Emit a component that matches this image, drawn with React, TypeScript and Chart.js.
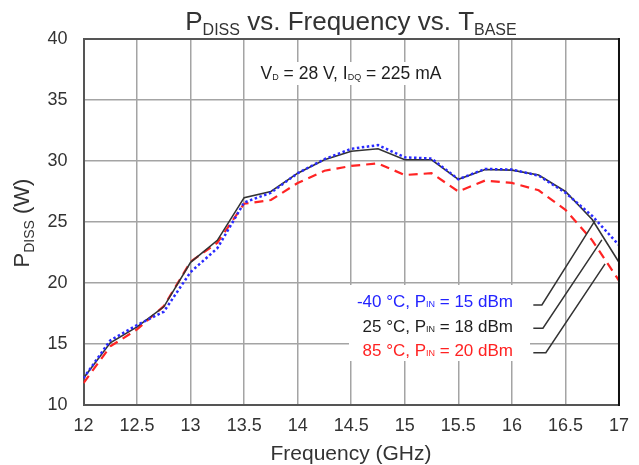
import React, { useEffect, useRef } from "react";
import { Chart, registerables } from "chart.js";

Chart.register(...registerables);

const frequencies = [12, 12.25, 12.5, 12.75, 13, 13.25, 13.5, 13.75, 14, 14.25, 14.5, 14.75, 15, 15.25, 15.5, 15.75, 16, 16.25, 16.5, 16.75, 17];
const pdissMinus40 = [12.2, 15.3, 16.55, 17.65, 20.9, 22.85, 26.6, 27.4, 29.0, 30.15, 31.0, 31.3, 30.3, 30.2, 28.5, 29.35, 29.3, 28.8, 27.4, 25.5, 23.1];
const pdiss25 = [12.2, 15.1, 16.4, 18.05, 21.7, 23.5, 27.0, 27.5, 29.0, 30.1, 30.8, 31.0, 30.1, 30.1, 28.5, 29.3, 29.25, 28.85, 27.5, 25.2, 21.7];
const pdiss85 = [11.8, 14.8, 16.2, 18.1, 21.75, 23.3, 26.5, 26.8, 28.2, 29.2, 29.6, 29.8, 28.85, 29.0, 27.5, 28.4, 28.2, 27.6, 26.0, 23.5, 20.2];

const xTicks = [12, 12.5, 13, 13.5, 14, 14.5, 15, 15.5, 16, 16.5, 17];
const yTicks = [10, 15, 20, 25, 30, 35, 40];

const legendLabels = [
  { pre: "-40 °C, P", sub: "IN", post: " = 15 dBm", color: "#2323ff" },
  { pre: "25 °C, P", sub: "IN", post: " = 18 dBm", color: "#1e1e1e" },
  { pre: "85 °C, P", sub: "IN", post: " = 20 dBm", color: "#ff2222" },
];
// leader lines in data units
const leaderStartX = [16.2, 16.2, 16.2];
const leaderY = [18.2, 16.29, 14.29];
const leaderKinkX = [16.28, 16.29, 16.317];
const leaderEndX = [16.776, 16.84, 16.87];
const leaderEndY = [25.12, 23.53, 21.57];

const FONT = "'Liberation Sans', Arial, sans-serif";

type Seg = { t: string; sub?: boolean };

function drawRich(
  ctx: CanvasRenderingContext2D,
  segs: Seg[],
  x: number,
  y: number,
  align: "left" | "center" | "right",
  size: number,
  subSize: number,
  subDy: number,
  color: string
) {
  ctx.save();
  ctx.fillStyle = color;
  ctx.textBaseline = "alphabetic";
  ctx.textAlign = "left";
  const widths = segs.map((s) => {
    ctx.font = `${s.sub ? subSize : size}px ${FONT}`;
    return ctx.measureText(s.t).width;
  });
  const total = widths.reduce((a, b) => a + b, 0);
  let cx = align === "left" ? x : align === "center" ? x - total / 2 : x - total;
  segs.forEach((s, i) => {
    ctx.font = `${s.sub ? subSize : size}px ${FONT}`;
    ctx.fillText(s.t, cx, s.sub ? y + subDy : y);
    cx += widths[i];
  });
  ctx.restore();
}

const decorPlugin = {
  id: "decor",
  beforeDatasetsDraw(chart: any) {
    const ctx: CanvasRenderingContext2D = chart.ctx;
    ctx.save();
    ctx.fillStyle = "#ffffff";
    ctx.fillRect(248, 62, 209, 23);
    ctx.fillRect(349, 285, 181, 76);
    ctx.restore();
  },
  afterDatasetsDraw(chart: any) {
    const ctx: CanvasRenderingContext2D = chart.ctx;
    const { left, right, top, bottom } = chart.chartArea;
    const xs = chart.scales.x;
    const ys = chart.scales.y;
    ctx.save();
    ctx.lineWidth = 2;
    ctx.strokeStyle = "#555555";
    ctx.beginPath();
    ctx.moveTo(left, top);
    ctx.lineTo(right, top);
    ctx.stroke();
    ctx.strokeStyle = "#111111";
    ctx.beginPath();
    ctx.moveTo(right, top - 1);
    ctx.lineTo(right, bottom + 1);
    ctx.stroke();

    ctx.strokeStyle = "#333333";
    ctx.lineWidth = 1.5;
    for (let i = 0; i < leaderY.length; i++) {
      ctx.beginPath();
      ctx.moveTo(xs.getPixelForValue(leaderStartX[i]), ys.getPixelForValue(leaderY[i]));
      ctx.lineTo(xs.getPixelForValue(leaderKinkX[i]), ys.getPixelForValue(leaderY[i]));
      ctx.lineTo(xs.getPixelForValue(leaderEndX[i]), ys.getPixelForValue(leaderEndY[i]));
      ctx.stroke();
    }
    ctx.restore();

    const baselines = [307, 332, 356];
    legendLabels.forEach((l, i) => {
      drawRich(ctx, [{ t: l.pre }, { t: l.sub, sub: true }, { t: l.post }], 513, baselines[i], "right", 17, 9, 0, l.color);
    });

    drawRich(
      ctx,
      [{ t: "V" }, { t: "D", sub: true }, { t: " = 28 V, I" }, { t: "DQ", sub: true }, { t: " = 225 mA" }],
      351,
      79,
      "center",
      17.5,
      9,
      1,
      "#1e1e1e"
    );

    drawRich(
      ctx,
      [{ t: "P" }, { t: "DISS", sub: true }, { t: " vs. Frequency vs. T" }, { t: "BASE", sub: true }],
      351,
      30,
      "center",
      26,
      16,
      5,
      "#333333"
    );

    drawRich(ctx, [{ t: "Frequency (GHz)" }], 351, 460, "center", 21, 21, 0, "#333333");

    ctx.save();
    ctx.translate(29, 223);
    ctx.rotate(-Math.PI / 2);
    drawRich(ctx, [{ t: "P" }, { t: "DISS", sub: true }, { t: " (W)" }], 0, 0, "center", 22, 14, 5, "#333333");
    ctx.restore();
  },
};

export default function App() {
  const ref = useRef<HTMLCanvasElement | null>(null);
  useEffect(() => {
    document.body.style.margin = "0";
    const canvas = ref.current;
    if (!canvas) return;
    const mk = (arr: number[]) => frequencies.map((f, i) => ({ x: f, y: arr[i] }));
    const chart = new Chart(canvas, {
      type: "line",
      data: {
        datasets: [
          {
            label: "-40 °C, PIN = 15 dBm",
            data: mk(pdissMinus40),
            borderColor: "#2a2aff",
            borderWidth: 2.5,
            borderDash: [2.5, 2.5],
            pointRadius: 0,
            tension: 0,
            fill: false,
          },
          {
            label: "25 °C, PIN = 18 dBm",
            data: mk(pdiss25),
            borderColor: "#333333",
            borderWidth: 1.6,
            pointRadius: 0,
            tension: 0,
            fill: false,
          },
          {
            label: "85 °C, PIN = 20 dBm",
            data: mk(pdiss85),
            borderColor: "#ff2424",
            borderWidth: 2.2,
            borderDash: [9, 6],
            pointRadius: 0,
            tension: 0,
            fill: false,
          },
        ],
      },
      options: {
        animation: false,
        responsive: true,
        maintainAspectRatio: false,
        layout: { padding: { left: 0, top: 39, right: 19, bottom: 0 } },
        plugins: {
          legend: { display: false },
          title: { display: false },
          tooltip: { enabled: false },
        },
        scales: {
          x: {
            type: "linear",
            min: xTicks[0],
            max: xTicks[xTicks.length - 1],
            afterBuildTicks: (s: any) => {
              s.ticks = xTicks.map((v) => ({ value: v }));
            },
            afterFit: (s: any) => {
              s.height = 60;
            },
            ticks: {
              callback: (v: any) => String(v),
              font: { size: 18, family: FONT },
              color: "#333333",
              padding: 10,
              maxRotation: 0,
              autoSkip: false,
            },
            grid: { color: "#a4a4a4", lineWidth: 1.5, drawTicks: false },
            border: { display: true, color: "#555555", width: 2 },
          },
          y: {
            type: "linear",
            min: yTicks[0],
            max: yTicks[yTicks.length - 1],
            afterBuildTicks: (s: any) => {
              s.ticks = yTicks.map((v) => ({ value: v }));
            },
            afterFit: (s: any) => {
              s.width = 83.5;
            },
            ticks: {
              callback: (v: any) => String(v),
              font: { size: 18, family: FONT },
              color: "#333333",
              padding: 16,
              autoSkip: false,
            },
            grid: { color: "#a4a4a4", lineWidth: 1.5, drawTicks: false },
            border: { display: true, color: "#555555", width: 2 },
          },
        },
      },
      plugins: [decorPlugin],
    } as any);
    return () => chart.destroy();
  }, []);
  return (
    <div style={{ width: 639, height: 465, position: "relative" }}>
      <canvas ref={ref} />
    </div>
  );
}
